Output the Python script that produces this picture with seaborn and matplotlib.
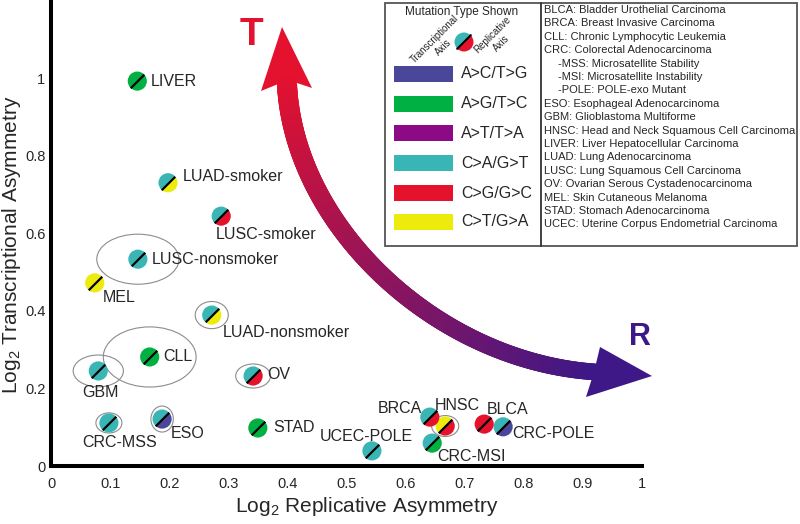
import numpy as np
import pandas as pd
import matplotlib
matplotlib.use("Agg")
import matplotlib.pyplot as plt
import seaborn as sns
from matplotlib.markers import MarkerStyle
from matplotlib.transforms import Affine2D
from matplotlib.patches import Ellipse, Polygon, Rectangle, Wedge
from matplotlib.collections import LineCollection

# ---------------- data ----------------
cancers = ["LIVER", "LUAD-smoker", "LUSC-smoker", "LUSC-nonsmoker", "MEL",
           "LUAD-nonsmoker", "CLL", "GBM", "OV", "CRC-MSS", "ESO", "STAD",
           "UCEC-POLE", "BRCA", "HNSC", "CRC-MSI", "BLCA", "CRC-POLE"]
replicative_asym = [0.146, 0.198, 0.288, 0.147, 0.074, 0.272, 0.167, 0.080, 0.342,
                    0.098, 0.188, 0.350, 0.543, 0.641, 0.667, 0.645, 0.733, 0.765]
transcriptional_asym = [0.992, 0.730, 0.644, 0.533, 0.472, 0.389, 0.281, 0.245, 0.232,
                        0.111, 0.121, 0.098, 0.039, 0.126, 0.103, 0.059, 0.108, 0.101]
transcriptional_type = ["A>G/T>C", "C>A/G>T", "C>A/G>T", "C>A/G>T", "C>T/G>A",
                        "C>A/G>T", "A>G/T>C", "C>A/G>T", "C>A/G>T", "C>A/G>T",
                        "C>A/G>T", "A>G/T>C", "C>A/G>T", "C>A/G>T", "C>T/G>A",
                        "C>A/G>T", "C>G/G>C", "C>A/G>T"]
replicative_type = ["A>G/T>C", "C>T/G>A", "C>G/G>C", "C>A/G>T", "C>T/G>A",
                    "C>T/G>A", "A>G/T>C", "C>A/G>T", "C>G/G>C", "C>A/G>T",
                    "A>C/T>G", "A>G/T>C", "C>A/G>T", "C>G/G>C", "C>G/G>C",
                    "A>G/T>C", "C>G/G>C", "A>C/T>G"]

ellipse_cancers = ["LUSC-nonsmoker", "LUAD-nonsmoker", "CLL", "GBM", "OV",
                   "CRC-MSS", "ESO", "HNSC"]
ellipse_width = [0.139, 0.056, 0.157, 0.085, 0.059, 0.044, 0.038, 0.046]
ellipse_height = [0.129, 0.070, 0.155, 0.082, 0.062, 0.052, 0.067, 0.054]

mutation_types = ["A>C/T>G", "A>G/T>C", "A>T/T>A", "C>A/G>T", "C>G/G>C", "C>T/G>A"]
mutation_colors = ["#4A479B", "#00B042", "#8C0A85", "#39B5B6", "#E5122E", "#ECEB0C"]

x_ticks = [0, 0.1, 0.2, 0.3, 0.4, 0.5, 0.6, 0.7, 0.8, 0.9, 1.0]
x_tick_labels = ["0", "0.1", "0.2", "0.3", "0.4", "0.5", "0.6", "0.7", "0.8", "0.9", "1"]
y_ticks = [0, 0.2, 0.4, 0.6, 0.8, 1.0]
y_tick_labels = ["0", "0.2", "0.4", "0.6", "0.8", "1"]

abbreviations = [
    ("BLCA: Bladder Urothelial Carcinoma", 0),
    ("BRCA: Breast Invasive Carcinoma", 0),
    ("CLL: Chronic Lymphocytic Leukemia", 0),
    ("CRC: Colorectal Adenocarcinoma", 0),
    ("-MSS: Microsatellite Stability", 1),
    ("-MSI: Microsatellite Instability", 1),
    ("-POLE: POLE-exo Mutant", 1),
    ("ESO: Esophageal Adenocarcinoma", 0),
    ("GBM: Glioblastoma Multiforme", 0),
    ("HNSC: Head and Neck Squamous Cell Carcinoma", 0),
    ("LIVER: Liver Hepatocellular Carcinoma", 0),
    ("LUAD: Lung Adenocarcinoma", 0),
    ("LUSC: Lung Squamous Cell Carcinoma", 0),
    ("OV: Ovarian Serous Cystadenocarcinoma", 0),
    ("MEL: Skin Cutaneous Melanoma", 0),
    ("STAD: Stomach Adenocarcinoma", 0),
    ("UCEC: Uterine Corpus Endometrial Carcinoma", 0),
]

# ---------------- layout (label offsets in pixels: dx, dy-down, ha) ----------------
label_layout = {
    "LIVER": (13, 0, "left"), "LUAD-smoker": (15, -6, "left"),
    "LUSC-smoker": (-5, 18, "left"), "LUSC-nonsmoker": (14, 0, "left"),
    "MEL": (8, 15, "left"), "LUAD-nonsmoker": (11, 17, "left"),
    "CLL": (14, 0, "left"), "GBM": (2, 22, "center"), "OV": (14, -1, "left"),
    "CRC-MSS": (11, 20, "center"), "ESO": (9, 14, "left"), "STAD": (15, 0, "left"),
    "UCEC-POLE": (-6, -14, "center"), "BRCA": (-8, -9, "right"),
    "HNSC": (12, -21, "center"), "CRC-MSI": (5, 13, "left"),
    "BLCA": (3, -15, "left"), "CRC-POLE": (9, 7, "left"),
}

sns.set_style("white")
plt.rcParams["font.family"] = ["Liberation Sans", "DejaVu Sans"]
plt.rcParams["mathtext.fontset"] = "custom"
plt.rcParams["mathtext.rm"] = "Liberation Sans"
plt.rcParams["mathtext.it"] = "Liberation Sans:italic"

df = pd.DataFrame({"cancer": cancers, "rep": replicative_asym, "trans": transcriptional_asym,
                   "ttype": transcriptional_type, "rtype": replicative_type})
palette = dict(zip(mutation_types, mutation_colors))

fig = plt.figure(figsize=(8.0, 5.24), dpi=100)
ax = fig.add_axes([51 / 800, 58 / 524, 591 / 800, 466 / 524])

# ellipses
pos = dict(zip(cancers, zip(replicative_asym, transcriptional_asym)))
for name, w, h in zip(ellipse_cancers, ellipse_width, ellipse_height):
    ax.add_patch(Ellipse(pos[name], w, h, fill=False, ec="#8c8c8c", lw=0.8, zorder=1))

S = 190
upper = MarkerStyle("o", fillstyle="top", transform=Affine2D().rotate_deg(45))
lower = MarkerStyle("o", fillstyle="bottom", transform=Affine2D().rotate_deg(45))
diag = MarkerStyle("_", transform=Affine2D().rotate_deg(45))

sns.scatterplot(data=df, x="rep", y="trans", hue="ttype", palette=palette, marker=upper,
                s=S, linewidth=0, edgecolor="none", legend=False, ax=ax, zorder=3)
sns.scatterplot(data=df, x="rep", y="trans", hue="rtype", palette=palette, marker=lower,
                s=S, linewidth=0, edgecolor="none", legend=False, ax=ax, zorder=3)
sns.scatterplot(data=df, x="rep", y="trans", marker=diag, s=S, color="black",
                linewidth=1.6, legend=False, ax=ax, zorder=4)

for name, xv, yv in zip(cancers, replicative_asym, transcriptional_asym):
    dx, dy, ha = label_layout[name]
    ax.annotate(name, (xv, yv), xytext=(dx * 0.72, -dy * 0.72), textcoords="offset points",
                ha=ha, va="center", fontsize=11.5, zorder=5)

ax.set_xlim(0, 1)
ax.set_ylim(0, 466 / 388)
ax.set_xticks(x_ticks)
ax.set_xticklabels(x_tick_labels)
ax.set_yticks(y_ticks)
ax.set_yticklabels(y_tick_labels)
ax.tick_params(direction="in", length=4, width=2.2, labelsize=10.5, color="black")
ax.tick_params(axis="x", pad=8)
ax.tick_params(axis="y", pad=4)
for s in ["top", "right"]:
    ax.spines[s].set_visible(False)
for s in ["left", "bottom"]:
    ax.spines[s].set_linewidth(2.9)
    ax.spines[s].set_color("black")
ax.set_xlabel(r"Log$_2$ Replicative Asymmetry", fontsize=15)
ax.set_ylabel(r"Log$_2$ Transcriptional Asymmetry", fontsize=15)
ax.xaxis.label.set_va("center")
ax.yaxis.label.set_va("center")
ax.xaxis.set_label_coords(0.535, -0.086)
ax.yaxis.set_label_coords(-0.067, 0.474)
ax.patch.set_alpha(0)

# ---------------- overlay: arrows + legend box (pixel coords) ----------------
ov = fig.add_axes([0, 0, 1, 1])
ov.set_xlim(0, 800)
ov.set_ylim(524, 0)
ov.axis("off")
ov.patch.set_alpha(0)

P = np.array([[287, 85], [295, 230], [440, 362], [596, 372]], dtype=float)
t = np.linspace(0, 1, 240)
B = (((1 - t) ** 3)[:, None] * P[0] + (3 * (1 - t) ** 2 * t)[:, None] * P[1]
     + (3 * (1 - t) * t ** 2)[:, None] * P[2] + (t ** 3)[:, None] * P[3])
segs = np.stack([B[:-1], B[1:]], axis=1)
c0 = np.array([228, 17, 47]) / 255
c1 = np.array([62, 24, 135]) / 255
tm = (t[:-1] + t[1:]) / 2
cols = c0[None, :] * (1 - tm)[:, None] + c1[None, :] * tm[:, None]
ov.add_collection(LineCollection(segs, colors=cols, linewidths=14.5 - 2.5 * tm,
                                 capstyle="round"))
ov.add_patch(Polygon([[282, 27], [312, 88], [288, 80], [261, 91]], closed=True,
                     fc=c0, ec="none"))
ov.add_patch(Polygon([[652, 376], [600, 347], [594, 372], [586, 397]], closed=True,
                     fc=c1, ec="none"))
ov.text(251, 35, "T", color=c0, fontsize=28, fontweight="bold", ha="center", va="center",
        family=["Liberation Sans Narrow", "Liberation Sans", "DejaVu Sans"])
ov.text(640, 337, "R", color=c1, fontsize=22, fontweight="bold", ha="center", va="center",
        family=["Liberation Sans Narrow", "Liberation Sans", "DejaVu Sans"])

# legend box
ov.add_patch(Rectangle((385, 3), 412, 243, fc="white", ec="#555555", lw=1.3))
ov.plot([541, 541], [3, 246], color="#333333", lw=1.3)
ov.text(462, 12, "Mutation Type Shown", fontsize=8.5, ha="center", va="center")
cx, cy, r = 464, 42, 9.5
ov.add_patch(Wedge((cx, cy), r, 135, 315, fc=palette["C>A/G>T"], ec="none"))
ov.add_patch(Wedge((cx, cy), r, -45, 135, fc=palette["C>G/G>C"], ec="none"))
ov.plot([cx - r * 0.72, cx + r * 0.72], [cy + r * 0.72, cy - r * 0.72], color="black", lw=1.5)
ov.text(439, 43, "Transcriptional\nAxis", rotation=45, fontsize=7, ha="center",
        va="center", multialignment="center")
ov.text(497, 39, "Replicative\nAxis", rotation=45, fontsize=7, ha="center",
        va="center", multialignment="center")
bar_y = [74, 104, 133, 163, 193, 222]
for mt, col, yy in zip(mutation_types, mutation_colors, bar_y):
    ov.add_patch(Rectangle((394, yy - 8), 59, 16, fc=col, ec="none"))
    ov.text(461, yy, mt, fontsize=11.5, ha="left", va="center")
for i, (line, indent) in enumerate(abbreviations):
    ov.text(544 + 14 * indent, 10 + 13.4 * i, line, fontsize=8, ha="left", va="center")

fig.savefig("out.png", dpi=100)
